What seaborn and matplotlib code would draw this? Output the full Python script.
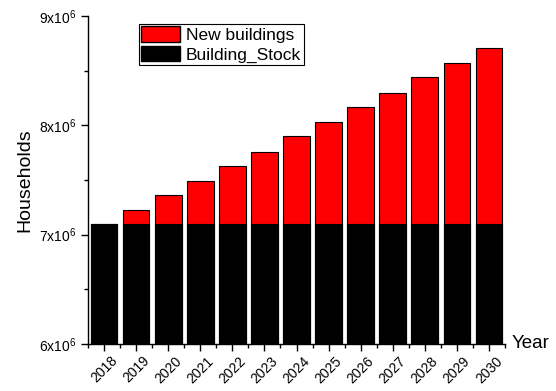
import matplotlib
matplotlib.use("Agg")
import matplotlib.pyplot as plt
import matplotlib.ticker as mticker
from matplotlib.patches import Patch
import seaborn as sns
import pandas as pd

years = ["2018", "2019", "2020", "2021", "2022", "2023", "2024",
         "2025", "2026", "2027", "2028", "2029", "2030"]
building_stock = [7.1e6] * 13
new_buildings = [0.0, 0.13e6, 0.26e6, 0.39e6, 0.53e6, 0.66e6, 0.80e6,
                 0.93e6, 1.07e6, 1.20e6, 1.34e6, 1.47e6, 1.61e6]
ytick_labels = [r"6x10$^{6}$", r"7x10$^{6}$", r"8x10$^{6}$", r"9x10$^{6}$"]

df = pd.DataFrame({"Year": years, "Stock": building_stock, "New": new_buildings})
df["Total"] = df["Stock"] + df["New"]

sns.set_style("ticks")
plt.rcParams['font.family'] = ['Liberation Sans', 'DejaVu Sans']
plt.rcParams['mathtext.fontset'] = 'custom'
plt.rcParams['mathtext.rm'] = 'Liberation Sans'
plt.rcParams['mathtext.it'] = 'Liberation Sans'
plt.rcParams['text.color'] = 'black'
plt.rcParams['axes.labelcolor'] = 'black'
plt.rcParams['xtick.color'] = 'black'
plt.rcParams['ytick.color'] = 'black'

fig = plt.figure(figsize=(5.56, 3.91), dpi=100)
ax = fig.add_axes([88/556, 47/391, 417/556, 328/391])

sns.barplot(data=df, x="Year", y="Total", color="#ff0000", saturation=1,
            width=0.83, edgecolor="black", linewidth=0.8, ax=ax)
sns.barplot(data=df, x="Year", y="Stock", color="#000000", saturation=1,
            width=0.83, edgecolor="black", linewidth=0.8, ax=ax)

ax.set_ylim(6e6, 9e6)
ax.set_xlim(-0.5, 12.5)
ax.set_yticks([6e6, 7e6, 8e6, 9e6])
ax.set_yticklabels(ytick_labels, fontsize=10)
ax.yaxis.set_minor_locator(mticker.FixedLocator([6.5e6, 7.5e6, 8.5e6]))
ax.set_xticks(range(len(years)))
ax.set_xticklabels(years, rotation=45, fontsize=10)
ax.xaxis.set_minor_locator(mticker.FixedLocator([i + 0.5 for i in range(-1, 13)]))
ax.tick_params(axis="both", which="major", direction="out", length=5, width=1,
               color="black", bottom=True, left=True)
ax.tick_params(axis="both", which="minor", direction="out", length=3, width=1,
               color="black", bottom=True, left=True)
ax.tick_params(axis="x", which="major", pad=2)

ax.set_ylabel("Households", fontsize=14, labelpad=4)
ax.set_xlabel("")
ax.text(1.015, 0.0, "Year", transform=ax.transAxes, ha="left", va="center", fontsize=13.5)

for side in ["top", "right"]:
    ax.spines[side].set_visible(False)
for side in ["left", "bottom"]:
    ax.spines[side].set_linewidth(1.0)
    ax.spines[side].set_color("black")

handles = [Patch(facecolor="#ff0000", edgecolor="black", label="New buildings"),
           Patch(facecolor="#000000", edgecolor="black", label="Building_Stock")]
leg = ax.legend(handles=handles, loc="upper left", bbox_to_anchor=(0.122, 0.976),
                prop={"size": 12.5}, frameon=True, fancybox=False, handlelength=2.2,
                handleheight=1.0, borderpad=0.15, labelspacing=0.15, handletextpad=0.35,
                borderaxespad=0)
leg.get_frame().set_edgecolor("black")
leg.get_frame().set_linewidth(0.8)
leg.get_frame().set_alpha(1)

fig.savefig("out.png", dpi=100)
